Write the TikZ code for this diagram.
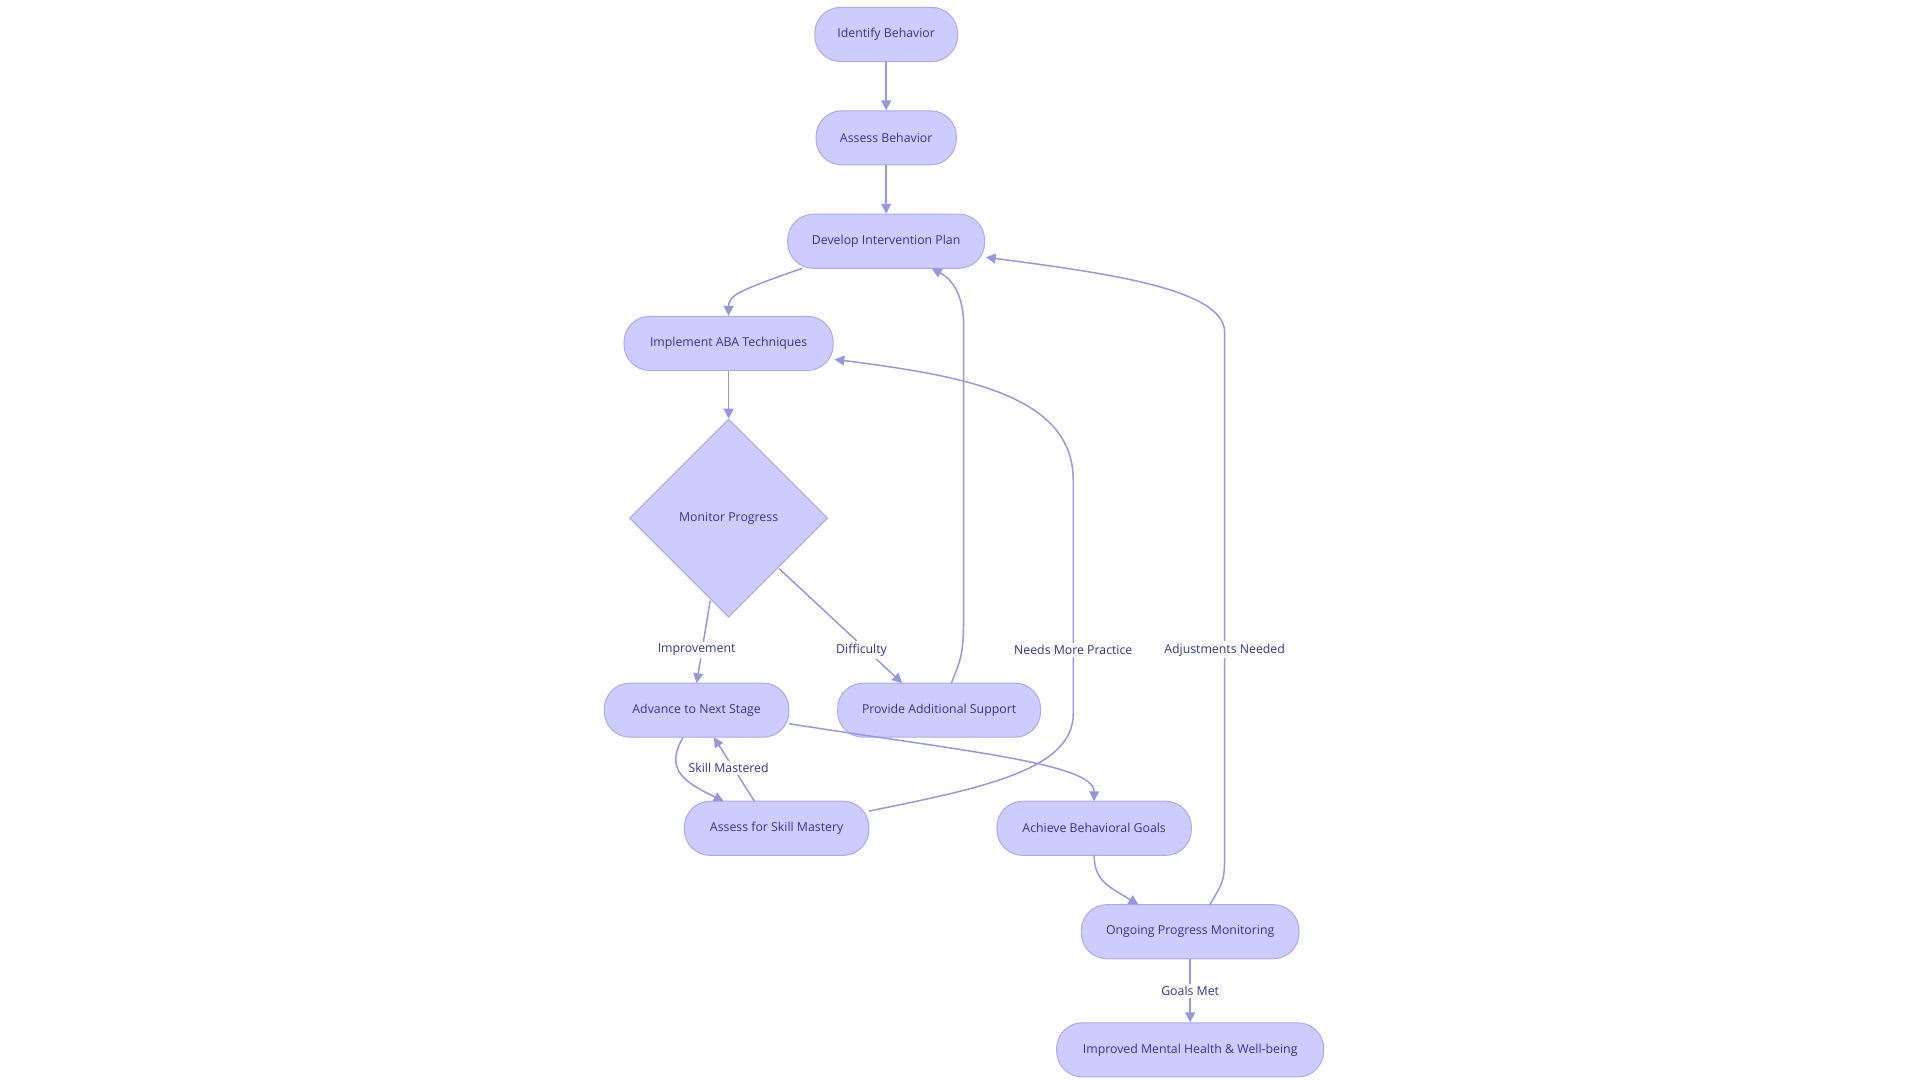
\documentclass[tikz,border=0pt]{standalone}
\usepackage{fontspec}
\setmainfont{Open Sans}
\usetikzlibrary{shapes.geometric,arrows.meta}
\definecolor{nfill}{RGB}{204,204,255}
\definecolor{nline}{RGB}{170,170,238}
\definecolor{ntext}{RGB}{51,51,140}
\definecolor{eline}{RGB}{150,150,225}
\tikzset{
 box/.style={rectangle, rounded corners=21pt, draw=nline, fill=nfill, line width=0.8pt, minimum height=44pt, text=ntext, font=\fontsize{10}{12}\selectfont, inner xsep=4pt},
 dia/.style={diamond, draw=nline, fill=nfill, line width=0.8pt, minimum width=161pt, minimum height=161pt, text=ntext, font=\fontsize{10}{12}\selectfont, inner sep=0pt},
 edge/.style={draw=eline, line width=1.2pt, -{Triangle[length=8pt,width=8pt]}},
 lab/.style={fill=white, text=ntext, font=\fontsize{10}{12}\selectfont, inner sep=2pt}
}
\begin{document}
\begin{tikzpicture}[x=1pt,y=-1pt]
\useasboundingbox (0,0) rectangle (1560,877.5);
\node[box,minimum width=116pt] (a) at (720,28) {Identify Behavior};
\node[box,minimum width=114pt] (b) at (720,112) {Assess Behavior};
\node[box,minimum width=160pt] (c) at (720,196) {Develop Intervention Plan};
\node[box,minimum width=170pt] (d) at (592,279) {Implement ABA Techniques};
\node[dia] (e) at (592,421) {Monitor Progress};
\node[box,minimum width=150pt] (f) at (566,577) {Advance to Next Stage};
\node[box,minimum width=165pt] (g) at (763,577) {Provide Additional Support};
\node[box,minimum width=150pt] (h) at (631,673) {Assess for Skill Mastery};
\node[box,minimum width=158pt] (i) at (889,673) {Achieve Behavioral Goals};
\node[box,minimum width=177pt] (j) at (967,757) {Ongoing Progress Monitoring};
\node[box,minimum width=217pt] (k) at (967,853) {Improved Mental Health \& Well-being};
\coordinate (c1) at (652,218);
\draw[edge] (a) -- (b);
\draw[edge] (b) -- (c);
\draw[edge] (c1) .. controls (600,236) and (592,240) .. (d.north);
\draw[edge] (d) -- (e);
\draw[edge] (577,488) -- (566,555);
\node[lab] (l1) at (566,528) {Improvement};
\draw[edge] (633,462) -- (733,555);
\node[lab] (l2) at (700,528) {Difficulty};
\draw[edge] (773,555) .. controls (783,530) .. (783,480) -- (783,265) .. controls (783,235) and (770,225) .. (757,218);
\draw[edge] (706,659) .. controls (800,640) and (872,625) .. (872,580) -- (872,390) .. controls (872,320) and (780,305) .. (678,292);
\node[lab] (l3) at (872,528) {Needs More Practice};
\draw[edge] (983,735) .. controls (995,715) .. (995,690) -- (995,270) .. controls (995,235) and (900,222) .. (801,209);
\node[lab] (l4) at (995,528) {Adjustments Needed};
\draw[edge] (555,599) .. controls (540,625) and (555,635) .. (588,651);
\draw[edge] (613,651) -- (580,599);
\node[lab] (l5) at (592,624) {Skill Mastered};
\draw[edge] (641,588) .. controls (780,610) and (889,620) .. (889,651);
\draw[edge] (889,695) .. controls (889,715) and (900,720) .. (925,735);
\draw[edge] (j) -- (k);
\node[lab] (l6) at (967,805) {Goals Met};
\end{tikzpicture}
\end{document}
